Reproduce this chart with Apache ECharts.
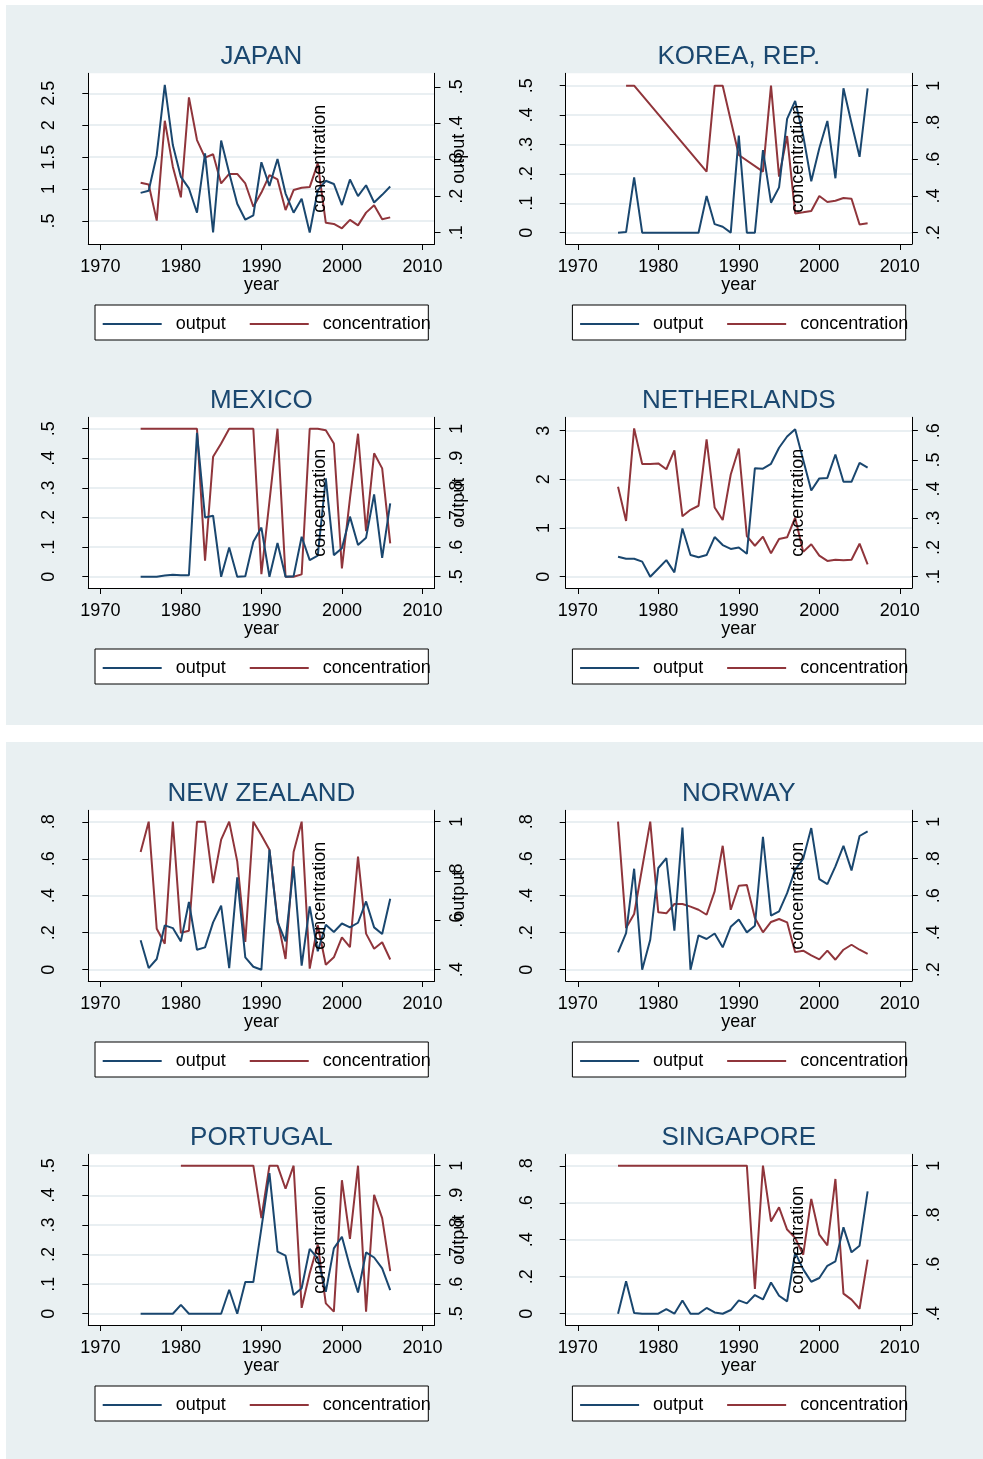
<!DOCTYPE html>
<html>
<head>
<meta charset="utf-8">
<script src="https://cdn.jsdelivr.net/npm/echarts@6/dist/echarts.min.js"></script>
<style>
  html, body { margin: 0; padding: 0; background: #ffffff; }
  #chart { width: 983px; height: 1459px; }
</style>
</head>
<body>
<div id="chart"></div>
<script>
// ---- data: output (left axis) and concentration (right axis), 1975-2006 ----
const years = [1975, 1976, 1977, 1978, 1979, 1980, 1981, 1982, 1983, 1984,
               1985, 1986, 1987, 1988, 1989, 1990, 1991, 1992, 1993, 1994,
               1995, 1996, 1997, 1998, 1999, 2000, 2001, 2002, 2003, 2004,
               2005, 2006];
const xTicks = [1970, 1980, 1990, 2000, 2010];
const countries = ['JAPAN', 'KOREA, REP.', 'MEXICO', 'NETHERLANDS',
                   'NEW ZEALAND', 'NORWAY', 'PORTUGAL', 'SINGAPORE'];

const japanOutput = [0.94, 0.975, 1.53, 2.63, 1.69, 1.19, 1.01, 0.63, 1.56, 0.32,
                     1.76, 1.25, 0.77, 0.52, 0.59, 1.42, 1.05, 1.47, 0.93, 0.63,
                     0.85, 0.32, 0.98, 1.13, 1.08, 0.75, 1.15, 0.89, 1.06, 0.79,
                     0.91, 1.04];
const japanConc = [0.237, 0.232, 0.133, 0.407, 0.281, 0.197, 0.471, 0.354, 0.306, 0.315,
                   0.235, 0.261, 0.261, 0.235, 0.171, 0.210, 0.258, 0.246, 0.162, 0.217,
                   0.223, 0.225, 0.290, 0.127, 0.124, 0.112, 0.135, 0.120, 0.155, 0.175,
                   0.137, 0.142];

const koreaOutput = [0, 0.002, 0.188, 0, 0, 0, 0, 0, 0, 0,
                     0, 0.125, 0.029, 0.02, 0, 0.33, 0, 0, 0.281, 0.102,
                     0.154, 0.387, 0.448, 0.33, 0.175, 0.287, 0.38, 0.185, 0.491, 0.372,
                     0.258, 0.491];
const koreaConc = [null, 1, 1, null, null, null, null, null, null, null,
                   null, 0.532, 1, 1, null, 0.623, null, null, 0.532, 1,
                   0.505, 0.726, 0.305, 0.311, 0.318, 0.40, 0.367, 0.374, 0.389, 0.385,
                   0.245, 0.251];

const mexicoOutput = [0, 0, 0, 0.0045, 0.007, 0.005, 0.005, 0.486, 0.2, 0.206,
                      0, 0.099, 0, 0.002, 0.118, 0.166, 0, 0.114, 0, 0.002,
                      0.135, 0.056, 0.071, 0.332, 0.073, 0.096, 0.203, 0.107, 0.132, 0.278,
                      0.064, 0.248];
const mexicoConc = [1, 1, 1, 1, 1, 1, 1, 1, 0.554, 0.905,
                    0.95, 1, 1, 1, 1, 0.509, null, 1, 0.5, 0.5,
                    0.508, 1, 1, 0.995, 0.95, 0.528, 0.765, 0.983, 0.654, 0.917,
                    0.866, 0.613];

const netherlandsOutput = [0.41, 0.37, 0.37, 0.31, 0, 0.17, 0.34, 0.09, 0.99, 0.445,
                           0.40, 0.445, 0.815, 0.65, 0.57, 0.60, 0.47, 2.23, 2.22, 2.32,
                           2.65, 2.88, 3.03, 2.4, 1.77, 2.02, 2.03, 2.51, 1.95, 1.95,
                           2.34, 2.24];
const netherlandsConc = [0.408, 0.291, 0.608, 0.486, 0.486, 0.488, 0.468, 0.533, 0.307, 0.329,
                         0.343, 0.570, 0.337, 0.294, 0.450, 0.539, 0.239, 0.206, 0.237, 0.180,
                         0.229, 0.235, 0.302, 0.185, 0.211, 0.172, 0.154, 0.158, 0.156, 0.158,
                         0.213, 0.142];

const newZealandOutput = [0.159, 0.009, 0.058, 0.24, 0.225, 0.153, 0.366, 0.108, 0.121, 0.256,
                          0.346, 0.009, 0.499, 0.067, 0.016, 0.0, 0.649, 0.258, 0.153, 0.559,
                          0.022, 0.342, 0.1, 0.243, 0.204, 0.25, 0.229, 0.254, 0.369, 0.229,
                          0.193, 0.384];
const newZealandConc = [0.877, 1, 0.566, 0.505, 1, 0.549, 0.558, 1, 1, 0.751,
                        0.927, 1, 0.839, 0.512, 1, 0.945, 0.886, 0.603, 0.443, 0.877,
                        1, 0.404, 0.58, 0.42, 0.45, 0.531, 0.491, 0.858, 0.546, 0.485,
                        0.511, 0.441];

const norwayOutput = [0.094, 0.198, 0.546, 0, 0.162, 0.55, 0.604, 0.211, 0.769, 0,
                      0.186, 0.166, 0.196, 0.121, 0.232, 0.272, 0.202, 0.238, 0.719, 0.292,
                      0.315, 0.414, 0.54, 0.60, 0.766, 0.49, 0.463, 0.559, 0.67, 0.537,
                      0.723, 0.748];
const norwayConc = [1, 0.425, 0.501, null, 1, 0.51, 0.505, 0.555, 0.555, 0.541,
                    0.524, 0.497, 0.623, 0.870, 0.524, 0.654, 0.658, 0.479, 0.402, 0.458,
                    0.474, 0.456, 0.295, 0.303, 0.277, 0.256, 0.303, 0.254, 0.308, 0.335,
                    0.308, 0.285];

const portugalOutput = [0, 0, 0, 0, 0, 0.03, 0, 0, 0, 0,
                        0, 0.081, 0, 0.107, 0.107, 0.289, 0.475, 0.21, 0.196, 0.063,
                        0.086, 0.219, 0.187, 0.074, 0.221, 0.26, 0.159, 0.072, 0.207, 0.19,
                        0.153, 0.08];
const portugalConc = [null, null, null, null, null, 1, 1, 1, 1, 1,
                      1, 1, 1, 1, 1, 0.823, 1, 1, 0.922, 1,
                      0.52, 0.637, 0.733, 0.535, 0.507, 0.951, 0.753, 1, 0.507, 0.902,
                      0.823, 0.644];

const singaporeOutput = [0, 0.175, 0.004, 0, 0, 0, 0.025, 0, 0.072, 0,
                         0, 0.031, 0.007, 0, 0.02, 0.072, 0.056, 0.101, 0.077, 0.169,
                         0.097, 0.067, 0.33, 0.24, 0.173, 0.193, 0.259, 0.283, 0.467, 0.332,
                         0.368, 0.661];
const singaporeConc = [1, 1, 1, 1, 1, 1, 1, 1, 1, 1,
                       1, 1, 1, 1, 1, 1, 1, 0.5, 1, 0.774,
                       0.831, 0.741, 0.707, 0.639, 0.865, 0.72, 0.677, 0.946, 0.481, 0.457,
                       0.42, 0.619];

// ---- axis tick labels ----
const leftTicks = [
  [0.5, 1, 1.5, 2, 2.5],
  [0, 0.1, 0.2, 0.3, 0.4, 0.5],
  [0, 0.1, 0.2, 0.3, 0.4, 0.5],
  [0, 1, 2, 3],
  [0, 0.2, 0.4, 0.6, 0.8],
  [0, 0.2, 0.4, 0.6, 0.8],
  [0, 0.1, 0.2, 0.3, 0.4, 0.5],
  [0, 0.2, 0.4, 0.6, 0.8]
];
const rightTicks = [
  [0.1, 0.2, 0.3, 0.4, 0.5],
  [0.2, 0.4, 0.6, 0.8, 1],
  [0.5, 0.6, 0.7, 0.8, 0.9, 1],
  [0.1, 0.2, 0.3, 0.4, 0.5, 0.6],
  [0.4, 0.6, 0.8, 1],
  [0.2, 0.4, 0.6, 0.8, 1],
  [0.5, 0.6, 0.7, 0.8, 0.9, 1],
  [0.4, 0.6, 0.8, 1]
];
// axis extents (plot region edges, in data units)
const leftRange = [
  [0.14, 2.813], [-0.0385, 0.542], [-0.038, 0.5385], [-0.232, 3.275],
  [-0.061, 0.862], [-0.061, 0.862], [-0.038, 0.5385], [-0.061, 0.862]
];
const rightRange = [
  [0.069, 0.537], [0.1385, 1.0675], [0.462, 1.0385], [0.0613, 0.6459],
  [0.354, 1.046], [0.139, 1.0616], [0.462, 1.0385], [0.354, 1.046]
];
const outputSeries = [japanOutput, koreaOutput, mexicoOutput, netherlandsOutput,
                      newZealandOutput, norwayOutput, portugalOutput, singaporeOutput];
const concSeries = [japanConc, koreaConc, mexicoConc, netherlandsConc,
                    newZealandConc, norwayConc, portugalConc, singaporeConc];

// ---- layout & style ----
const FONT = '"Liberation Sans", Arial, Helvetica, sans-serif';
const BLUE = '#1a476f';
const RED = '#90353b';
const TITLE = '#1a476f';
const BG = '#e9f0f2';
const GRIDLINE = '#e2eaee';
const COLX = [88.3, 565.7];
const ROWY = [73.3, 417.3, 810.3, 1154.3];
const PW = 346.2, PH = 170.7;

// Stata-style numbers: no leading zero before the decimal point
function fmt(v) {
  let s = String(+Number(v).toFixed(4));
  return s.replace(/^0\./, '.').replace(/^-0\./, '-.');
}

const grids = [], xAxes = [], yAxes = [], series = [], legends = [];
const graphics = [
  { type: 'rect', z: -100, shape: { x: 6, y: 5, width: 977, height: 720 }, style: { fill: BG } },
  { type: 'rect', z: -100, shape: { x: 6, y: 742, width: 977, height: 717 }, style: { fill: BG } }
];

function txt(x, y, text, size, color, rot) {
  return {
    type: 'text', x: x, y: y, z: 50, rotation: rot || 0, silent: true,
    style: {
      text: text, fontSize: size, fontFamily: FONT, fill: color,
      align: 'center', verticalAlign: 'middle',
      textAlign: 'center', textVerticalAlign: 'middle'
    }
  };
}

countries.forEach(function (name, i) {
  const col = i % 2, row = Math.floor(i / 2);
  const L = COLX[col], T = ROWY[row];
  const R = L + PW, B = T + PH, MID = T + PH / 2;

  grids.push({ left: L, top: T, width: PW, height: PH, show: true,
               backgroundColor: '#ffffff', borderWidth: 0 });

  xAxes.push({
    gridIndex: i, type: 'value', min: 1968.5, max: 2011.5,
    axisLine: { show: true, onZero: false, lineStyle: { color: '#000', width: 1 } },
    axisTick: { show: true, customValues: xTicks, length: 6, lineStyle: { color: '#000' } },
    axisLabel: { customValues: xTicks, margin: 14, fontSize: 18, color: '#000', fontFamily: FONT,
                 formatter: function (v) { return String(v); } },
    splitLine: { show: false }
  });

  const leftMargin = (name === 'NETHERLANDS') ? 13 : 30;
  yAxes.push({
    gridIndex: i, type: 'value', position: 'left',
    min: leftRange[i][0], max: leftRange[i][1],
    axisLine: { show: true, onZero: false, lineStyle: { color: '#000', width: 1 } },
    axisTick: { show: true, customValues: leftTicks[i], length: 6, lineStyle: { color: '#000' } },
    axisLabel: { customValues: leftTicks[i], rotate: 90, margin: leftMargin, fontSize: 18,
                 color: '#000', fontFamily: FONT, formatter: fmt },
    splitLine: { show: true, lineStyle: { color: GRIDLINE, width: 1.6 } }
  });
  yAxes.push({
    gridIndex: i, type: 'value', position: 'right',
    min: rightRange[i][0], max: rightRange[i][1],
    axisLine: { show: true, onZero: false, lineStyle: { color: '#000', width: 1 } },
    axisTick: { show: true, customValues: rightTicks[i], length: 6, lineStyle: { color: '#000' } },
    axisLabel: { customValues: rightTicks[i], rotate: 90, margin: 13.5, fontSize: 18,
                 color: '#000', fontFamily: FONT, formatter: fmt },
    splitLine: { show: false }
  });

  series.push({
    type: 'line', name: 'output', xAxisIndex: i, yAxisIndex: 2 * i,
    data: years.map(function (y, k) { return [y, outputSeries[i][k]]; }),
    symbol: 'none', showSymbol: false, connectNulls: true, animation: false,
    lineStyle: { color: BLUE, width: 2 }, itemStyle: { color: BLUE }, z: 3
  });
  series.push({
    type: 'line', name: 'concentration', xAxisIndex: i, yAxisIndex: 2 * i + 1,
    data: years.map(function (y, k) { return [y, concSeries[i][k]]; }),
    symbol: 'none', showSymbol: false, connectNulls: true, animation: false,
    lineStyle: { color: RED, width: 2 }, itemStyle: { color: RED }, z: 2
  });

  // legend frame and entries
  graphics.push({ type: 'rect', z: 1, shape: { x: L + 6.7, y: B + 61, width: 333.3, height: 35 },
                  style: { fill: '#ffffff', stroke: '#000', lineWidth: 1 } });
  legends.push({
    left: L + 14.4, top: B + 70, padding: 0, orient: 'horizontal',
    data: ['output', 'concentration'], icon: 'rect', itemWidth: 59, itemHeight: 2,
    itemGap: 24, selectedMode: false,
    textStyle: { fontSize: 18, color: '#000', fontFamily: FONT, lineHeight: 20, padding: [0, 0, 0, 9] }
  });

  // panel texts
  graphics.push(txt(L + PW / 2, T - 16.5, name, 26, TITLE));
  graphics.push(txt(L + PW / 2, B + 41, 'year', 18, '#000'));
  graphics.push(txt(L + 231.9, MID, 'concentration', 18, '#000', Math.PI / 2));
  if (col === 0) graphics.push(txt(R + 25, MID, 'output', 18, '#000', Math.PI / 2));
});

const chart = echarts.init(document.getElementById('chart'), null, { renderer: 'canvas' });
chart.setOption({
  animation: false,
  backgroundColor: '#ffffff',
  grid: grids,
  xAxis: xAxes,
  yAxis: yAxes,
  series: series,
  legend: legends,
  graphic: { elements: graphics }
});
</script>
</body>
</html>
